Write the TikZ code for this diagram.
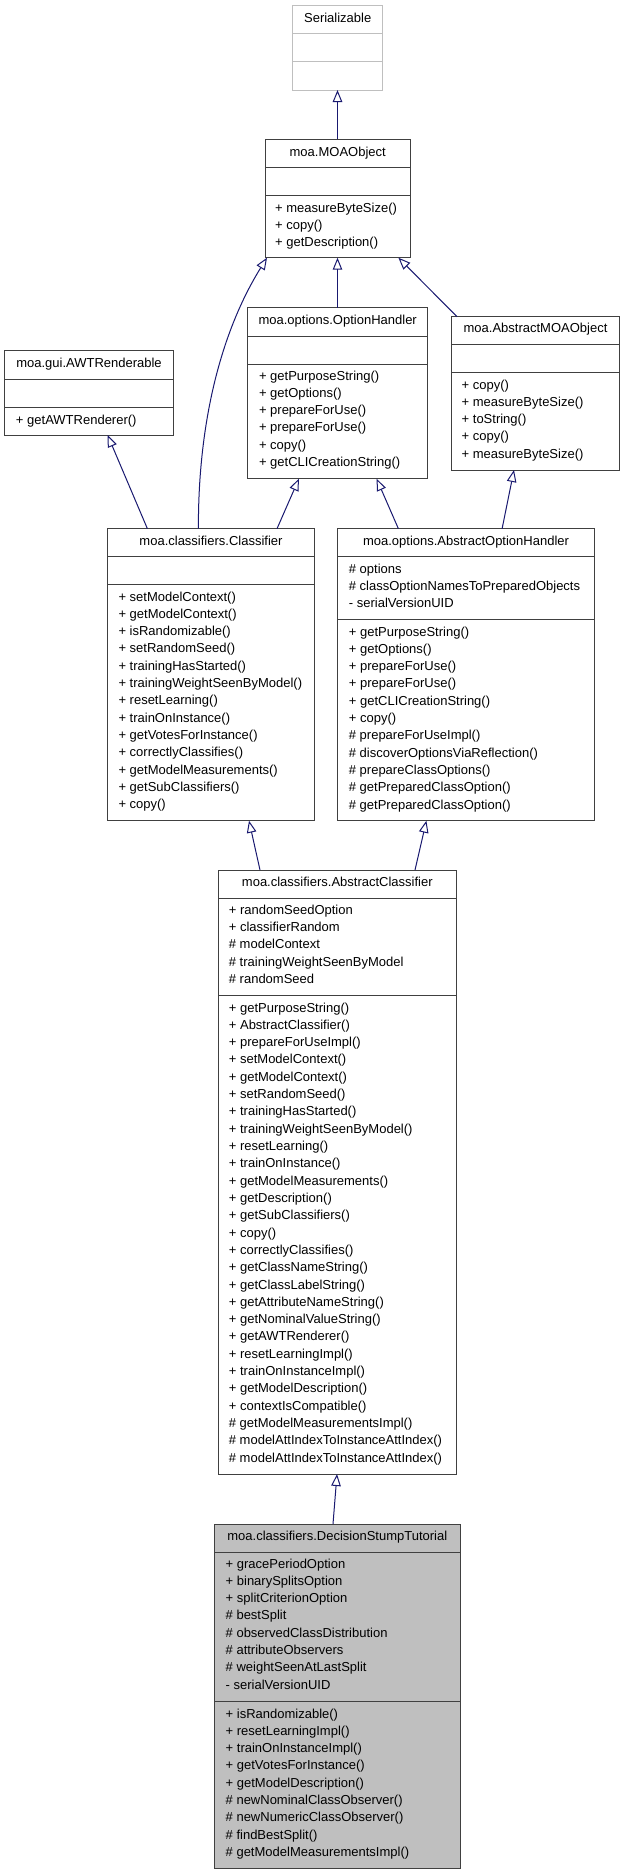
\documentclass[tikz,border=0pt]{standalone}
\usepackage{fontspec}
\setmainfont{Liberation Sans}
\usetikzlibrary{arrows.meta}
\definecolor{boxgray}{HTML}{404040}
\definecolor{lightgrayb}{HTML}{BFBFBF}
\definecolor{navy}{HTML}{191970}
\tikzset{
  umlbox/.style={draw=boxgray, line width=1pt, inner sep=0pt, outer sep=0pt, anchor=north west},
  divider/.style={draw=boxgray, line width=1pt},
  title/.style={font=\fontsize{13}{15.6}\selectfont, inner sep=0pt, text height=9.5pt, text depth=2.8pt},
  member/.style={font=\fontsize{13}{15.6}\selectfont, inner sep=0pt, anchor=west, text height=9.5pt, text depth=2.8pt},
  inherit/.style={draw=navy, line width=1pt, -{Triangle[open, length=12pt, width=9.5pt]}}
}
\begin{document}
\begin{tikzpicture}[x=1pt,y=-1pt]
\useasboundingbox (0,0) rectangle (624,1875);
\fill[white] (0,0) rectangle (624,1875);

% Serializable
\node[umlbox, draw=lightgrayb, minimum width=89.6pt, minimum height=84.3pt] (ser) at (292.9,5.7) {};
\draw[divider, draw=lightgrayb] ([yshift=-27.6pt]ser.north west) -- ([yshift=-27.6pt]ser.north east);
\draw[divider, draw=lightgrayb] ([yshift=-56pt]ser.north west) -- ([yshift=-56pt]ser.north east);
\node[title] (ser-t) at (337.7,19.2) {Serializable};

% moa.MOAObject
\node[umlbox, minimum width=145.4pt, minimum height=118.7pt] (moa) at (265,139) {};
\draw[divider] ([yshift=-28pt]moa.north west) -- ([yshift=-28pt]moa.north east);
\draw[divider] ([yshift=-56pt]moa.north west) -- ([yshift=-56pt]moa.north east);
\node[title] (moa-t) at (337.7,152.7) {moa.MOAObject};
\foreach[count=\i from 0] \t in {+ measureByteSize(), + copy(), + getDescription()}
  \node[member] (moa-m\i) at (275,{209+17.3*\i}) {\t};

% moa.options.OptionHandler
\node[umlbox, minimum width=179.8pt, minimum height=171pt] (oh) at (247.8,307.7) {};
\draw[divider] ([yshift=-28.3pt]oh.north west) -- ([yshift=-28.3pt]oh.north east);
\draw[divider] ([yshift=-56.3pt]oh.north west) -- ([yshift=-56.3pt]oh.north east);
\node[title] (oh-t) at (337.7,320.7) {moa.options.OptionHandler};
\foreach[count=\i from 0] \t in {+ getPurposeString(), + getOptions(), + prepareForUse(), + prepareForUse(), + copy(), + getCLICreationString()}
  \node[member] (oh-m\i) at (258.8,{376.7+17.3*\i}) {\t};

% moa.AbstractMOAObject
\node[umlbox, minimum width=168.1pt, minimum height=153.3pt] (amo) at (451.5,316.7) {};
\draw[divider] ([yshift=-27.6pt]amo.north west) -- ([yshift=-27.6pt]amo.north east);
\draw[divider] ([yshift=-56pt]amo.north west) -- ([yshift=-56pt]amo.north east);
\node[title] (amo-t) at (535.5,329.3) {moa.AbstractMOAObject};
\foreach[count=\i from 0] \t in {+ copy(), + measureByteSize(), + toString(), + copy(), + measureByteSize()}
  \node[member] (amo-m\i) at (461.5,{385.7+17.3*\i}) {\t};

% moa.gui.AWTRenderable
\node[umlbox, minimum width=168.5pt, minimum height=84.3pt] (awt) at (4.8,350.7) {};
\draw[divider] ([yshift=-28.6pt]awt.north west) -- ([yshift=-28.6pt]awt.north east);
\draw[divider] ([yshift=-56.6pt]awt.north west) -- ([yshift=-56.6pt]awt.north east);
\node[title] (awt-t) at (89,364.3) {moa.gui.AWTRenderable};
\node[member] (awt-m0) at (15.8,420.7) {+ getAWTRenderer()};

% moa.classifiers.Classifier
\node[umlbox, minimum width=206.8pt, minimum height=292pt] (cls) at (107.6,528.7) {};
\draw[divider] ([yshift=-27.6pt]cls.north west) -- ([yshift=-27.6pt]cls.north east);
\draw[divider] ([yshift=-55.6pt]cls.north west) -- ([yshift=-55.6pt]cls.north east);
\node[title] (cls-t) at (211,541.7) {moa.classifiers.Classifier};
\foreach[count=\i from 0] \t in {+ setModelContext(), + getModelContext(), + isRandomizable(), + setRandomSeed(), + trainingHasStarted(), + trainingWeightSeenByModel(), + resetLearning(), + trainOnInstance(), + getVotesForInstance(), + correctlyClassifies(), + getModelMeasurements(), + getSubClassifiers(), + copy()}
  \node[member] (cls-m\i) at (118.3,{597.7+17.3*\i}) {\t};

% moa.options.AbstractOptionHandler
\node[umlbox, minimum width=256.2pt, minimum height=292pt] (aoh) at (337.9,528.7) {};
\draw[divider] ([yshift=-27.6pt]aoh.north west) -- ([yshift=-27.6pt]aoh.north east);
\draw[divider] ([yshift=-91pt]aoh.north west) -- ([yshift=-91pt]aoh.north east);
\node[title] (aoh-t) at (466,541.7) {moa.options.AbstractOptionHandler};
\foreach[count=\i from 0] \t in {\# options, \# classOptionNamesToPreparedObjects, - serialVersionUID}
  \node[member] (aoh-a\i) at (348.7,{569.7+17.3*\i}) {\t};
\foreach[count=\i from 0] \t in {+ getPurposeString(), + getOptions(), + prepareForUse(), + prepareForUse(), + getCLICreationString(), + copy(), \# prepareForUseImpl(), \# discoverOptionsViaReflection(), \# prepareClassOptions(), \# getPreparedClassOption(), \# getPreparedClassOption()}
  \node[member] (aoh-m\i) at (348.7,{632.7+17.3*\i}) {\t};

% moa.classifiers.AbstractClassifier
\node[umlbox, minimum width=238.7pt, minimum height=604pt] (ac) at (218,870) {};
\draw[divider] ([yshift=-28.3pt]ac.north west) -- ([yshift=-28.3pt]ac.north east);
\draw[divider] ([yshift=-125.7pt]ac.north west) -- ([yshift=-125.7pt]ac.north east);
\node[title] (ac-t) at (337.3,882.7) {moa.classifiers.AbstractClassifier};
\foreach[count=\i from 0] \t in {+ randomSeedOption, + classifierRandom, \# modelContext, \# trainingWeightSeenByModel, \# randomSeed}
  \node[member] (ac-a\i) at (228.7,{911+17.3*\i}) {\t};
\foreach[count=\i from 0] \t in {+ getPurposeString(), + AbstractClassifier(), + prepareForUseImpl(), + setModelContext(), + getModelContext(), + setRandomSeed(), + trainingHasStarted(), + trainingWeightSeenByModel(), + resetLearning(), + trainOnInstance(), + getModelMeasurements(), + getDescription(), + getSubClassifiers(), + copy(), + correctlyClassifies(), + getClassNameString(), + getClassLabelString(), + getAttributeNameString(), + getNominalValueString(), + getAWTRenderer(), + resetLearningImpl(), + trainOnInstanceImpl(), + getModelDescription(), + contextIsCompatible(), \# getModelMeasurementsImpl(), \# modelAttIndexToInstanceAttIndex(), \# modelAttIndexToInstanceAttIndex()}
  \node[member] (ac-m\i) at (228.7,{1008.7+17.31*\i}) {\t};

% moa.classifiers.DecisionStumpTutorial
\node[umlbox, fill=lightgrayb, minimum width=246.7pt, minimum height=344.3pt] (dst) at (214,1524) {};
\draw[divider] ([yshift=-28.3pt]dst.north west) -- ([yshift=-28.3pt]dst.north east);
\draw[divider] ([yshift=-177.7pt]dst.north west) -- ([yshift=-177.7pt]dst.north east);
\node[title] (dst-t) at (337.3,1536.7) {moa.classifiers.DecisionStumpTutorial};
\foreach[count=\i from 0] \t in {+ gracePeriodOption, + binarySplitsOption, + splitCriterionOption, \# bestSplit, \# observedClassDistribution, \# attributeObservers, \# weightSeenAtLastSplit, - serialVersionUID}
  \node[member] (dst-a\i) at (225.5,{1564.7+17.3*\i}) {\t};
\foreach[count=\i from 0] \t in {+ isRandomizable(), + resetLearningImpl(), + trainOnInstanceImpl(), + getVotesForInstance(), + getModelDescription(), \# newNominalClassObserver(), \# newNumericClassObserver(), \# findBestSplit(), \# getModelMeasurementsImpl()}
  \node[member] (dst-m\i) at (225.5,{1714.7+17.3*\i}) {\t};

% inheritance connectors
\draw[inherit] ([xshift=72.5pt]moa.north west) -- ([xshift=44.6pt]ser.south west);
\draw[inherit] ([xshift=89.7pt]oh.north west) -- ([xshift=72.5pt]moa.south west);
\draw[inherit] ([xshift=5.5pt]amo.north west) -- ([xshift=133.4pt]moa.south west);
\draw[inherit] ([xshift=90.8pt]cls.north west) .. controls +(-0.4,-108.7) and +(-45,72.3) .. ([xshift=2pt]moa.south west);
\draw[inherit] ([xshift=39.8pt]cls.north west) -- ([xshift=102.8pt]awt.south west);
\draw[inherit] ([xshift=169.4pt]cls.north west) -- ([xshift=51.1pt]oh.south west);
\draw[inherit] ([xshift=60.5pt]aoh.north west) -- ([xshift=128.8pt]oh.south west);
\draw[inherit] ([xshift=164.2pt]aoh.north west) -- ([xshift=62.5pt]amo.south west);
\draw[inherit] ([xshift=42pt]ac.north west) -- ([xshift=141.4pt]cls.south west);
\draw[inherit] ([xshift=197pt]ac.north west) -- ([xshift=88.5pt]aoh.south west);
\draw[inherit] ([xshift=119pt]dst.north west) -- ([xshift=119pt]ac.south west);
\end{tikzpicture}
\end{document}
